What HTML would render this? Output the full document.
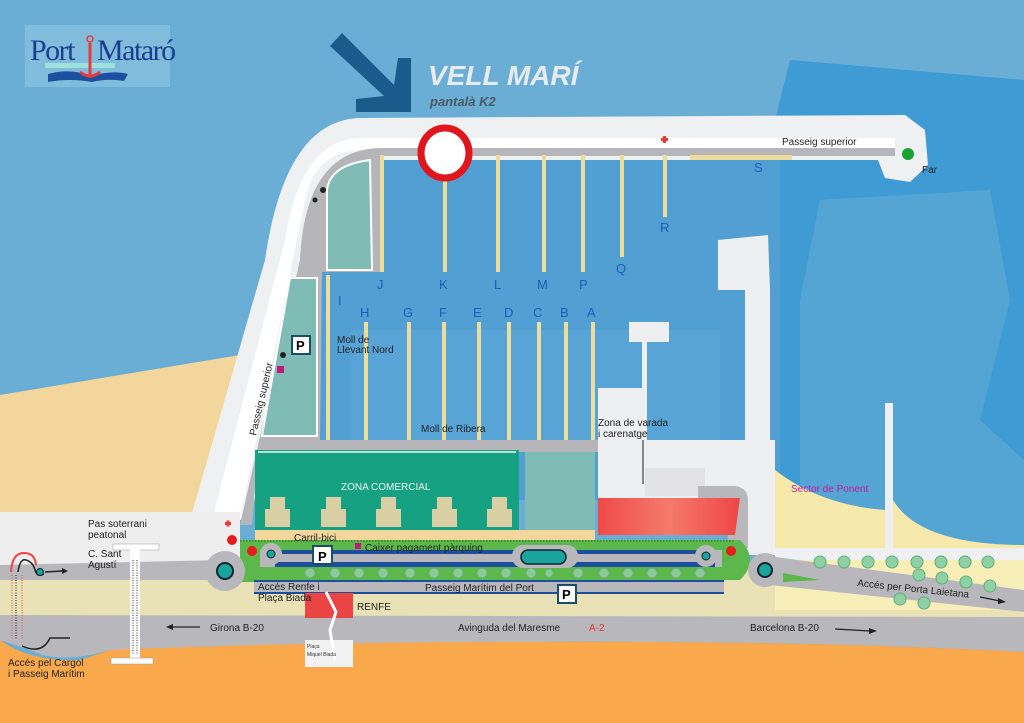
<!DOCTYPE html>
<html><head><meta charset="utf-8"><style>
html,body{margin:0;padding:0;width:1024px;height:723px;overflow:hidden;background:#6aaed6}
svg{display:block}
text{font-family:"Liberation Sans",sans-serif}
</style></head><body>
<svg width="1024" height="723" viewBox="0 0 1024 723" xmlns="http://www.w3.org/2000/svg">
<defs>
<linearGradient id="rg" x1="0" x2="1"><stop offset="0" stop-color="#ef4a4a"/><stop offset=".5" stop-color="#f57a6a"/><stop offset="1" stop-color="#ee4646"/></linearGradient>
</defs>
<rect width="1024" height="723" fill="#6aaed6"/>
<polygon points="790,60 1024,80 1024,560 775,560 775,120" fill="#3f9bd3"/>
<polygon points="820,200 990,190 1010,300 980,420 1024,460 1024,560 800,560 800,300" fill="#5aa7d5" opacity=".8"/>
<polygon points="300,150 780,150 780,500 300,500" fill="#519fd3"/>
<polygon points="350,330 720,330 720,440 350,440" fill="#5ea9d8" opacity=".6"/>
<polygon points="0,395 240,355 230,515 0,515" fill="#f3d69b"/>
<path d="M190,520 L265,260 Q285,120 360,118 L905,115 L925,130 L928,165 L910,182 L885,178 L878,160 L360,160 Q330,162 322,200 L250,520 Z" fill="#eef0f2"/>
<path d="M212,520 L285,240 Q300,140 360,138 L895,138 L895,150 L360,150 Q315,152 305,200 L240,520 Z" fill="#ffffff"/>
<path d="M240,525 L300,260 Q305,150 380,148 L895,148 L895,156 L380,156 L380,272 L322,272 L320,440 L600,440 L600,452 L258,452 L252,525 Z" fill="#b6b6ba"/>
<rect x="690" y="155" width="102" height="5" fill="#eedc9a"/>
<path d="M327,270 L327,190 Q330,165 370,160 L372,270 Z" fill="#7fbcb5" stroke="#fff" stroke-width="2"/>
<polygon points="290,278 317,278 317,436 262,436" fill="#7fbcb5" stroke="#fff" stroke-width="2"/>
<g stroke="#eedc9a" stroke-width="4">
<line x1="382" y1="155" x2="382" y2="272"/><line x1="445" y1="178" x2="445" y2="272"/>
<line x1="498" y1="155" x2="498" y2="272"/><line x1="544" y1="155" x2="544" y2="272"/>
<line x1="583" y1="155" x2="583" y2="272"/><line x1="622" y1="155" x2="622" y2="257"/>
<line x1="665" y1="155" x2="665" y2="217"/>
<line x1="328" y1="275" x2="328" y2="440"/><line x1="366" y1="322" x2="366" y2="440"/>
<line x1="409" y1="322" x2="409" y2="440"/><line x1="444" y1="322" x2="444" y2="440"/>
<line x1="479" y1="322" x2="479" y2="440"/><line x1="509" y1="322" x2="509" y2="440"/>
<line x1="539" y1="322" x2="539" y2="440"/><line x1="566" y1="322" x2="566" y2="440"/>
<line x1="593" y1="322" x2="593" y2="440"/>
</g>
<ellipse cx="445" cy="153" rx="24" ry="25" fill="#fff" stroke="#e0161c" stroke-width="7"/>
<path d="M718,240 L768,235 L770,290 L770,525 L745,525 L745,290 L718,290 Z" fill="#eeeff1"/>
<rect x="598" y="440" width="172" height="90" fill="#eeeff1"/>
<rect x="598" y="388" width="48" height="55" fill="#eeeff1"/>
<rect x="629" y="322" width="40" height="20" fill="#eeeff1"/>
<rect x="642" y="340" width="5" height="100" fill="#eeeff1"/>
<rect x="743" y="440" width="32" height="115" fill="#eeeff1"/>
<path d="M775,470 Q820,505 885,510 L885,550 L775,550 Z" fill="#f7e8ab"/>
<path d="M893,500 Q920,545 1024,545 L1024,560 L893,560 Z" fill="#f7e8ab"/>
<rect x="885" y="403" width="8" height="150" fill="#eeeff1"/>
<rect x="775" y="548" width="249" height="12" fill="#eef0f2"/>
<rect x="0" y="512" width="240" height="55" fill="#eeeeef"/>
<rect x="0" y="565" width="1024" height="60" fill="#e9e2b6"/>
<rect x="775" y="560" width="249" height="50" fill="#f7eeb8"/>
<polygon points="0,565 225,560 225,580 0,580" fill="#b8b8bc"/>
<path d="M0,615 L1024,617 L1024,652 Q800,640 500,642 L110,650 Q60,665 30,650 L0,640 Z" fill="#b8b8bc"/>
<path d="M0,640 Q30,662 80,660 L110,650 Q300,642 500,642 Q800,640 1024,652 L1024,723 L0,723 Z" fill="#f9a84b"/>
<polygon points="760,555 1024,590 1024,612 770,585" fill="#b8b8bc"/>
<rect x="255" y="450" width="264" height="80" fill="#17a183"/>
<rect x="258" y="451" width="258" height="2" fill="#b8e0d4"/>
<g fill="#d8cfa4">
<path d="M265,527 v-18 h5 v-12 h15 v12 h5 v18 z"/>
<path d="M321,527 v-18 h5 v-12 h15 v12 h5 v18 z"/>
<path d="M376,527 v-18 h5 v-12 h15 v12 h5 v18 z"/>
<path d="M432,527 v-18 h5 v-12 h15 v12 h5 v18 z"/>
<path d="M487,527 v-18 h5 v-12 h15 v12 h5 v18 z"/>
</g>
<rect x="525" y="452" width="70" height="82" fill="#80bcb6"/>
<rect x="255" y="530" width="340" height="10" fill="#f3d69b"/>
<rect x="645" y="468" width="60" height="28" fill="#e3e3e5"/>
<path d="M698,486 L735,486 Q748,488 748,500 L748,548 L728,548 L728,500 L698,500 Z" fill="#b8b8bc"/>
<polygon points="598,498 740,498 735,535 598,535" fill="url(#rg)"/>
<path d="M240,540 L740,540 Q760,560 740,580 L240,582 Z" fill="#5cb84b"/>
<line x1="240" y1="541" x2="735" y2="541" stroke="#2a6a2a" stroke-width="1" stroke-dasharray="1.5,1.5"/>
<rect x="260" y="550" width="462" height="17" fill="#b8b8bc"/>
<rect x="275" y="550" width="440" height="4" fill="#1d4f9e"/>
<rect x="275" y="562" width="440" height="5" fill="#1d4f9e"/>
<g fill="#8bcb98" stroke="#6cae7c">
<circle cx="310" cy="573" r="5"/><circle cx="335" cy="573" r="5"/><circle cx="359" cy="573" r="5"/><circle cx="383" cy="573" r="5"/><circle cx="410" cy="573" r="5"/><circle cx="434" cy="573" r="5"/><circle cx="458" cy="573" r="5"/><circle cx="482" cy="573" r="5"/><circle cx="506" cy="573" r="5"/><circle cx="531" cy="573" r="5"/><circle cx="549" cy="573" r="4"/><circle cx="578" cy="573" r="5"/><circle cx="604" cy="573" r="5"/><circle cx="628" cy="573" r="5"/><circle cx="652" cy="573" r="5"/><circle cx="676" cy="573" r="5"/><circle cx="700" cy="573" r="5"/>
</g>
<rect x="254" y="580" width="470" height="14" fill="#b8b8bc"/>
<rect x="254" y="580" width="470" height="2" fill="#1d4f9e"/>
<rect x="254" y="592" width="470" height="2" fill="#1d4f9e"/>
<circle cx="225" cy="571" r="20" fill="#b8b8bc"/>
<circle cx="225" cy="571" r="8" fill="#19a59b" stroke="#123" stroke-width="2"/>
<circle cx="271" cy="554" r="11" fill="#b8b8bc"/><circle cx="271" cy="554" r="4" fill="#19a59b" stroke="#123"/>
<circle cx="706" cy="556" r="11" fill="#b8b8bc"/><circle cx="706" cy="556" r="4" fill="#19a59b" stroke="#123"/>
<circle cx="765" cy="570" r="17" fill="#b8b8bc"/><circle cx="765" cy="570" r="7" fill="#19a59b" stroke="#123" stroke-width="2"/>
<rect x="512" y="545" width="66" height="23" rx="11" fill="#b8b8bc"/>
<rect x="521" y="550" width="45" height="14" rx="7" fill="#19a59b" stroke="#123" stroke-width="1.5"/>
<polygon points="783,573 820,580 783,582" fill="#5cb84b"/>
<circle cx="232" cy="540" r="5" fill="#e81c1c"/><circle cx="252" cy="551" r="5" fill="#e81c1c"/><circle cx="731" cy="551" r="5" fill="#e81c1c"/>
<path d="M225,522 h6 v3 h-6z M226.5,520.5 h3 v6 h-3z" fill="#e83a3a"/>
<path d="M661,138 h7 v3 h-7z M663,136 h3 v7 h-3z" fill="#e83a3a"/>
<circle cx="908" cy="154" r="6" fill="#1aa330"/>
<g fill="#8fd0a4" stroke="#5fae7b">
<circle cx="820" cy="562" r="6"/><circle cx="844" cy="562" r="6"/><circle cx="868" cy="562" r="6"/><circle cx="892" cy="562" r="6"/><circle cx="917" cy="562" r="6"/><circle cx="941" cy="562" r="6"/><circle cx="965" cy="562" r="6"/><circle cx="988" cy="562" r="6"/>
<circle cx="919" cy="575" r="6"/><circle cx="942" cy="578" r="6"/><circle cx="966" cy="582" r="6"/><circle cx="990" cy="586" r="6"/>
<circle cx="900" cy="599" r="6"/><circle cx="924" cy="603" r="6"/>
</g>
<rect x="305" y="593" width="48" height="25" fill="#ea4444"/>
<rect x="305" y="640" width="48" height="27" fill="#f2f2f2"/>
<path d="M326,592 L336,612 L330,630 L335,660" stroke="#fff" stroke-width="3" fill="none"/>
<rect x="113" y="544" width="46" height="6" fill="#fff" stroke="#999" stroke-width=".5"/>
<rect x="130" y="548" width="10" height="115" fill="#fff"/>
<line x1="133" y1="560" x2="133" y2="655" stroke="#333" stroke-dasharray="1,1.5"/>
<line x1="137" y1="560" x2="137" y2="655" stroke="#333" stroke-dasharray="1,1.5"/>
<rect x="111" y="658" width="42" height="6" fill="#fff" stroke="#999" stroke-width=".5"/>
<path d="M11,572 Q12,553 24,553 Q35,553 36,565" fill="none" stroke="#e44" stroke-width="2"/>
<path d="M18,572 Q20,558 26,560 Q33,562 35,570 Q37,578 44,574" fill="none" stroke="#222" stroke-width="1.5"/>
<circle cx="40" cy="572" r="3.5" fill="#19a59b" stroke="#123"/>
<line x1="45" y1="572" x2="62" y2="571" stroke="#222" stroke-width="1.5"/><path d="M62,568 L68,571 L62,574z" fill="#222"/>
<line x1="12" y1="575" x2="12" y2="640" stroke="#e44" stroke-dasharray="1,1.5"/>
<line x1="16" y1="575" x2="16" y2="640" stroke="#223" stroke-dasharray="1,1.5"/>
<line x1="22" y1="575" x2="22" y2="640" stroke="#e44" stroke-dasharray="1,1.5"/>
<path d="M70,638 L50,638 Q42,655 22,646" fill="none" stroke="#222" stroke-width="1.5"/>
<line x1="172" y1="627" x2="200" y2="627" stroke="#222" stroke-width="1.3"/><path d="M166,627 L173,624 L173,630z" fill="#222"/>
<line x1="835" y1="629" x2="870" y2="631" stroke="#222" stroke-width="1.3"/><path d="M877,631 L869,628 L869,634z" fill="#222"/>
<line x1="980" y1="597" x2="1000" y2="601" stroke="#222" stroke-width="1.3"/><path d="M1006,602 L998,598 L998,604z" fill="#222"/>
<g font-weight="bold" font-size="13">
<rect x="292" y="336" width="18" height="18" fill="#fff" stroke="#1b4e66" stroke-width="2"/><text x="296" y="350">P</text>
<rect x="313" y="546" width="19" height="18" fill="#fff" stroke="#1b4e66" stroke-width="2"/><text x="318" y="561">P</text>
<rect x="558" y="585" width="18" height="18" fill="#fff" stroke="#1b4e66" stroke-width="2"/><text x="562" y="599">P</text>
</g>
<rect x="277" y="366" width="7" height="7" fill="#c0197a"/>
<rect x="355" y="543" width="6" height="6" fill="#c0197a"/>
<circle cx="283" cy="355" r="3" fill="#222"/><circle cx="323" cy="190" r="3" fill="#222"/><circle cx="315" cy="200" r="2.5" fill="#222"/>
<!-- logo -->
<rect x="25" y="25" width="145" height="62" fill="#8dc2e0" opacity=".7"/>
<rect x="45" y="63" width="70" height="5" fill="#9ee0dc"/>
<path d="M48,74 Q70,68 92,76 Q112,70 128,74 L124,81 Q108,78 92,82 Q70,78 48,82Z" fill="#1b4fa0"/>
<path d="M90,43 L90,78 M80,72 Q90,80 100,72" stroke="#e8383a" stroke-width="3" fill="none"/>
<circle cx="90" cy="39" r="3" fill="none" stroke="#e8383a" stroke-width="1.5"/>
<text x="30" y="60" style="font-family:'Liberation Serif',serif" font-size="30" fill="#1b3f8f" letter-spacing="-1.5">Port</text>
<text x="97" y="60" style="font-family:'Liberation Serif',serif" font-size="30" fill="#1b3f8f" letter-spacing="-1.5">Mataró</text>
<!-- big arrow -->
<polygon points="330,46 342,33 394,85 398,58 411,58 411,112 356,112 356,99 384,96" fill="#1a5b8c"/>
<text x="428" y="85" font-size="28" font-weight="bold" font-style="italic" fill="#e8ecee">VELL MARÍ</text>
<text x="430" y="106" font-size="13" font-weight="bold" font-style="italic" fill="#4d5a64">pantalà K2</text>
<g font-size="13" fill="#1d5fb4">
<text x="377" y="289">J</text><text x="439" y="289">K</text><text x="494" y="289">L</text><text x="537" y="289">M</text><text x="579" y="289">P</text><text x="616" y="273">Q</text><text x="660" y="232">R</text><text x="754" y="172">S</text>
<text x="338" y="305">I</text><text x="360" y="317">H</text><text x="403" y="317">G</text><text x="439" y="317">F</text><text x="473" y="317">E</text><text x="504" y="317">D</text><text x="533" y="317">C</text><text x="560" y="317">B</text><text x="587" y="317">A</text>
</g>
<g font-size="10" fill="#222">
<text x="782" y="145">Passeig superior</text>
<text x="922" y="173">Far</text>
<text x="337" y="343">Moll de</text><text x="337" y="353">Llevant Nord</text>
<text x="421" y="432">Moll de Ribera</text>
<text x="598" y="426">Zona de varada</text><text x="598" y="437">i carenatge</text>
<text x="256" y="436" transform="rotate(-77 256 436)">Passeig superior</text>
<text x="294" y="541">Carril-bici</text>
<text x="365" y="551">Caixer pagament pàrquing</text>
<text x="258" y="590">Accés Renfe i</text><text x="258" y="601">Plaça Biada</text>
<text x="425" y="591">Passeig Marítim del Port</text>
<text x="357" y="610">RENFE</text>
<text x="88" y="527">Pas soterrani</text><text x="88" y="538">peatonal</text>
<text x="88" y="557">C. Sant</text><text x="88" y="568">Agustí</text>
<text x="210" y="631">Girona B-20</text>
<text x="458" y="631">Avinguda del Maresme</text>
<text x="750" y="631">Barcelona B-20</text>
<text x="857" y="586" transform="rotate(6 857 586)">Accés per Porta Laietana</text>
<text x="8" y="666">Accés pel Cargol</text><text x="8" y="677">i Passeig Marítim</text>
</g>
<text x="589" y="631" font-size="10" fill="#e33">A-2</text>
<text x="791" y="492" font-size="10" fill="#c21aa0">Sector de Ponent</text>
<text x="341" y="490" font-size="10" fill="#e8f4f0">ZONA COMERCIAL</text>
<g font-size="5" fill="#333"><text x="307" y="648">Plaça</text><text x="307" y="656">Miquel Biada</text></g>
<line x1="643" y1="440" x2="643" y2="484" stroke="#222"/>
</svg>
</body></html>
